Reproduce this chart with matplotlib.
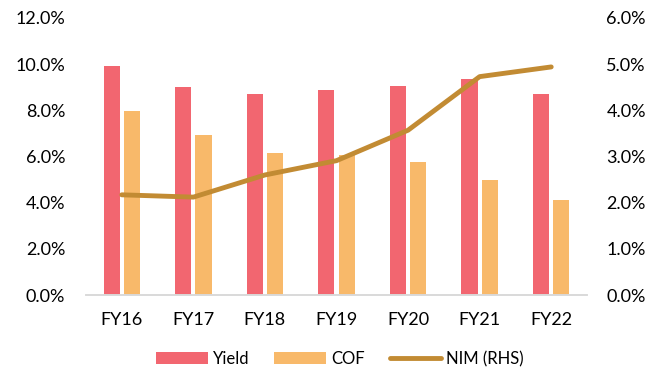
import numpy as np
import matplotlib.pyplot as plt
from matplotlib.ticker import PercentFormatter

years = ['FY16', 'FY17', 'FY18', 'FY19', 'FY20', 'FY21', 'FY22']
yield_pct = [9.92, 9.00, 8.71, 8.88, 9.06, 9.36, 8.71]
cof_pct = [7.99, 6.93, 6.14, 6.07, 5.76, 4.98, 4.12]
nim_pct = [2.17, 2.12, 2.60, 2.91, 3.57, 4.73, 4.94]

plt.rcParams['font.family'] = ['Lato', 'DejaVu Sans']

fig = plt.figure(figsize=(6.65, 3.73), dpi=100)
ax = fig.add_axes([86/665, 1 - 295/373, 501/665, 277/373])
ax2 = ax.twinx()

x = np.arange(len(years))
w = 0.225
ax.bar(x - 0.142, yield_pct, w, color='#F26670', label='Yield')
ax.bar(x + 0.142, cof_pct, w, color='#F8B96A', label='COF')
ax2.plot(x, nim_pct, color='#C28B33', lw=3.5, label='NIM (RHS)', solid_capstyle='round')

ax.set_xlim(-0.5, len(years) - 0.5)
ax.set_ylim(0, 12)
ax.set_yticks(np.arange(0, 12.1, 2))
ax2.set_ylim(0, 6)
ax2.set_yticks(np.arange(0, 6.1, 1))
ax.yaxis.set_major_formatter(PercentFormatter(decimals=1))
ax2.yaxis.set_major_formatter(PercentFormatter(decimals=1))
ax.set_xticks(x)
ax.set_xticklabels(years)

for a in (ax, ax2):
    for s in ('top', 'left', 'right'):
        a.spines[s].set_visible(False)
    a.spines['bottom'].set_color('#D9D9D9')
    a.spines['bottom'].set_linewidth(1.2)
    a.tick_params(length=0, labelsize=13, colors='#000000')
ax.tick_params(axis='y', pad=15)
ax2.tick_params(axis='y', pad=14)
ax.tick_params(axis='x', pad=12)

h1, l1 = ax.get_legend_handles_labels()
h2, l2 = ax2.get_legend_handles_labels()
fig.legend(h1 + h2, l1 + l2, loc='center', bbox_to_anchor=(340/665, 1 - 359/373),
           ncol=3, frameon=False, fontsize=12, handlelength=3.1,
           handleheight=0.7, columnspacing=1.5, handletextpad=0.3)

fig.savefig('out.png', dpi=100)
